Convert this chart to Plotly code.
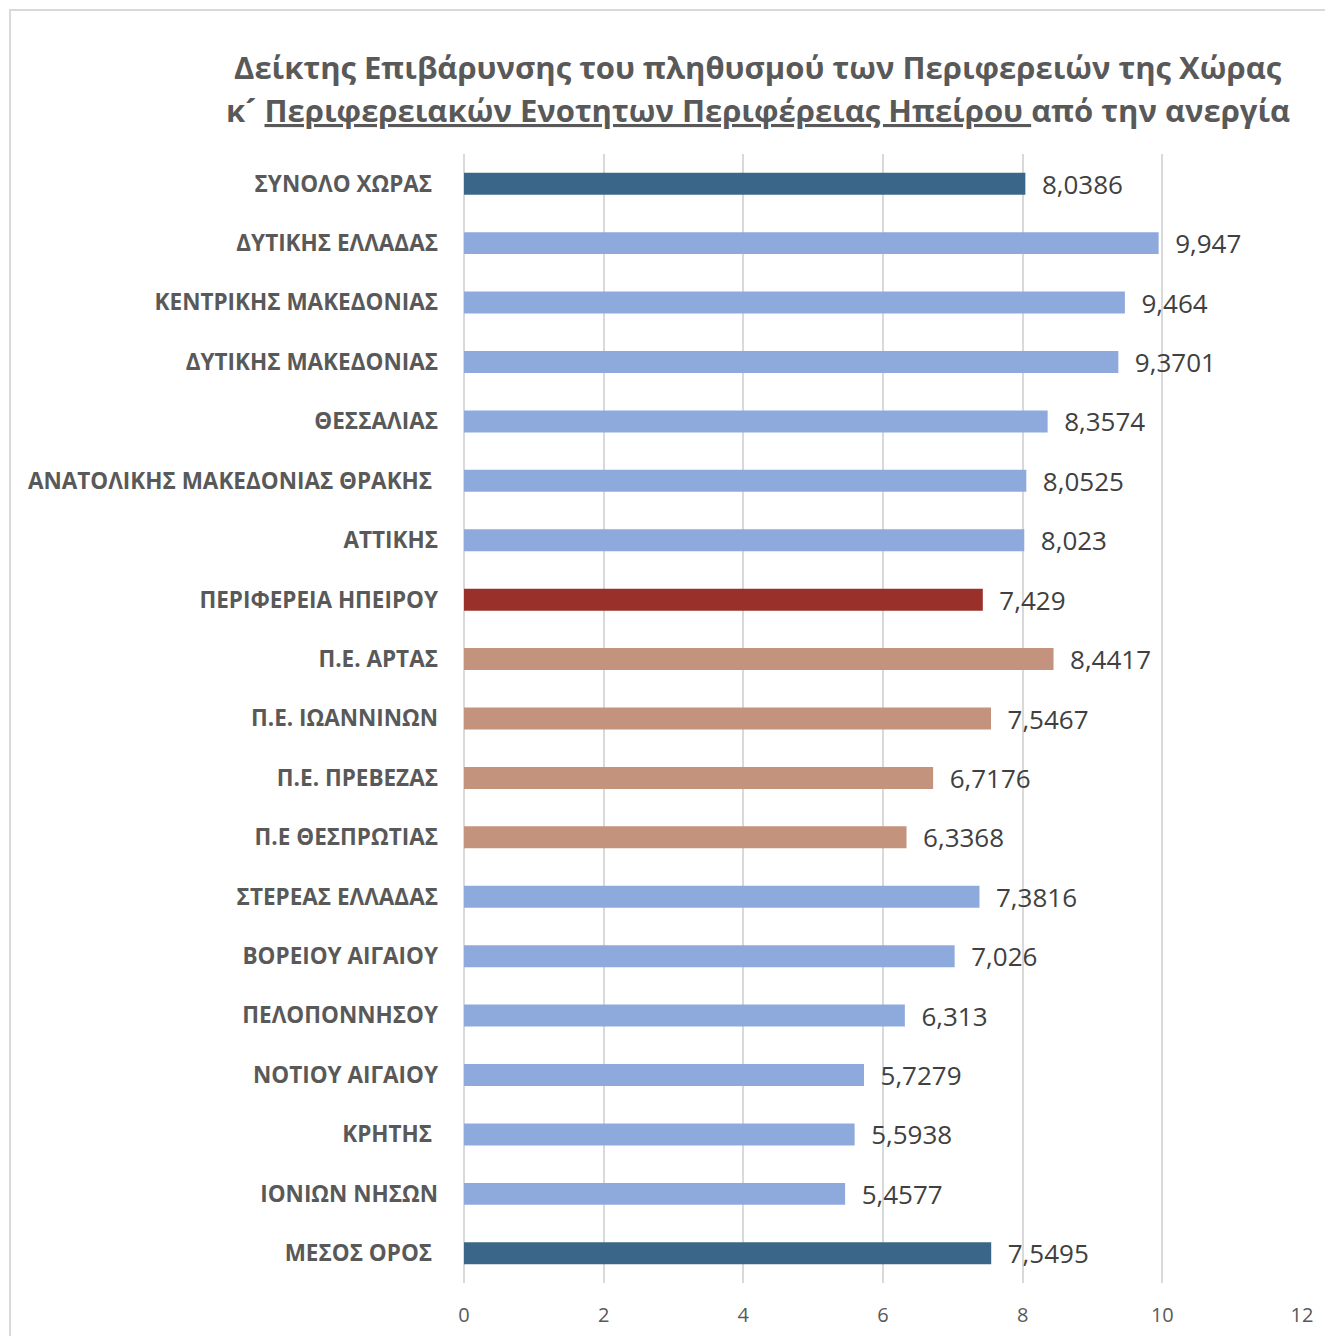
import plotly.graph_objects as go

categories = [
    "ΣΥΝΟΛΟ ΧΩΡΑΣ ",
    "ΔΥΤΙΚΗΣ ΕΛΛΑΔΑΣ",
    "ΚΕΝΤΡΙΚΗΣ ΜΑΚΕΔΟΝΙΑΣ",
    "ΔΥΤΙΚΗΣ ΜΑΚΕΔΟΝΙΑΣ",
    "ΘΕΣΣΑΛΙΑΣ",
    "ΑΝΑΤΟΛΙΚΗΣ ΜΑΚΕΔΟΝΙΑΣ ΘΡΑΚΗΣ ",
    "ΑΤΤΙΚΗΣ",
    "ΠΕΡΙΦΕΡΕΙΑ ΗΠΕΙΡΟΥ",
    "Π.Ε. ΑΡΤΑΣ",
    "Π.Ε. ΙΩΑΝΝΙΝΩΝ",
    "Π.Ε. ΠΡΕΒΕΖΑΣ",
    "Π.Ε ΘΕΣΠΡΩΤΙΑΣ",
    "ΣΤΕΡΕΑΣ ΕΛΛΑΔΑΣ",
    "ΒΟΡΕΙΟΥ ΑΙΓΑΙΟΥ",
    "ΠΕΛΟΠΟΝΝΗΣΟΥ",
    "ΝΟΤΙΟΥ ΑΙΓΑΙΟΥ",
    "ΚΡΗΤΗΣ ",
    "ΙΟΝΙΩΝ ΝΗΣΩΝ",
    "ΜΕΣΟΣ ΟΡΟΣ ",
]
values = [8.0386, 9.947, 9.464, 9.3701, 8.3574, 8.0525, 8.023, 7.429,
          8.4417, 7.5467, 6.7176, 6.3368, 7.3816, 7.026, 6.313, 5.7279,
          5.5938, 5.4577, 7.5495]
groups = ["total", "region", "region", "region", "region", "region", "region",
          "epirus", "unit", "unit", "unit", "unit", "region", "region",
          "region", "region", "region", "region", "total"]
x_ticks = [0, 2, 4, 6, 8, 10, 12]
title_line1 = "Δείκτης Επιβάρυνσης του πληθυσμού των Περιφερειών της Χώρας"
title_line2_pre = "κ\u00b4"
title_line2_under = "Περιφερειακών Ενοτητων Περιφέρειας Ηπείρου\u00a0"
title_line2_post = "από την ανεργία"

color_map = {"total": "#3A6789", "region": "#8EAADC", "epirus": "#993029", "unit": "#C3937D"}
colors = [color_map[g] for g in groups]
labels = ["\u00a0\u00a0" + str(v).replace(".", ",") for v in values]
tick_text = [c.replace(" ", "\u00a0") for c in categories]

# page body has an 8px offset
OFF = 8
W, H = 1333 - OFF, 1336 - OFF
L, R, T, B = 464 - OFF, 31, 154 - OFF, 53
pw, ph = W - L - R, H - T - B


def px_x(x):
    return (x - OFF - L) / pw


def px_y(y):
    return 1 - (y - OFF - T) / ph


fig = go.Figure(go.Bar(
    y=categories, x=values, orientation="h",
    marker=dict(color=colors, line=dict(width=0)),
    width=0.37,
    text=labels, textposition="outside", cliponaxis=False, constraintext="none",
    textfont=dict(family="Open Sans", size=26, color="#404040"),
    hoverinfo="skip",
))

title_font = dict(family="Open Sans", size=31, color="#595959", weight="bold")

fig.update_layout(
    width=W, height=H,
    margin=dict(l=L, r=R, t=T, b=B),
    paper_bgcolor="white", plot_bgcolor="white",
    showlegend=False,
    font=dict(family="Open Sans", color="#595959"),
    xaxis=dict(range=[0, 12], tickvals=x_ticks, ticktext=[str(t) for t in x_ticks],
               showgrid=True, gridcolor="#D9D9D9", gridwidth=2,
               zeroline=True, zerolinecolor="#D9D9D9", zerolinewidth=2,
               showline=False, ticks="", ticklabelstandoff=18, automargin=False,
               tickfont=dict(family="Open Sans", size=20, color="#595959")),
    yaxis=dict(categoryorder="array", categoryarray=categories, autorange="reversed",
               tickvals=categories, ticktext=tick_text,
               showgrid=False, zeroline=False, showline=False, ticks="",
               ticklabelstandoff=25, automargin=False,
               tickfont=dict(family="Open Sans", size=22.5, color="#595959", weight="bold")),
    annotations=[
        dict(text=title_line1,
             xref="paper", yref="paper", x=px_x(758), y=px_y(67),
             xanchor="center", yanchor="middle", showarrow=False, font=title_font),
        dict(text=title_line2_pre + " <span style='text-decoration:underline'>" + title_line2_under
                  + "</span>" + title_line2_post,
             xref="paper", yref="paper", x=px_x(758), y=px_y(110),
             xanchor="center", yanchor="middle", showarrow=False, font=title_font),
    ],
    shapes=[dict(type="rect", xref="paper", yref="paper",
                 x0=px_x(10), x1=px_x(1345),
                 y0=px_y(1345), y1=px_y(10),
                 line=dict(color="#D9D9D9", width=2), fillcolor="rgba(0,0,0,0)")],
)

fig.write_html("out.html")
